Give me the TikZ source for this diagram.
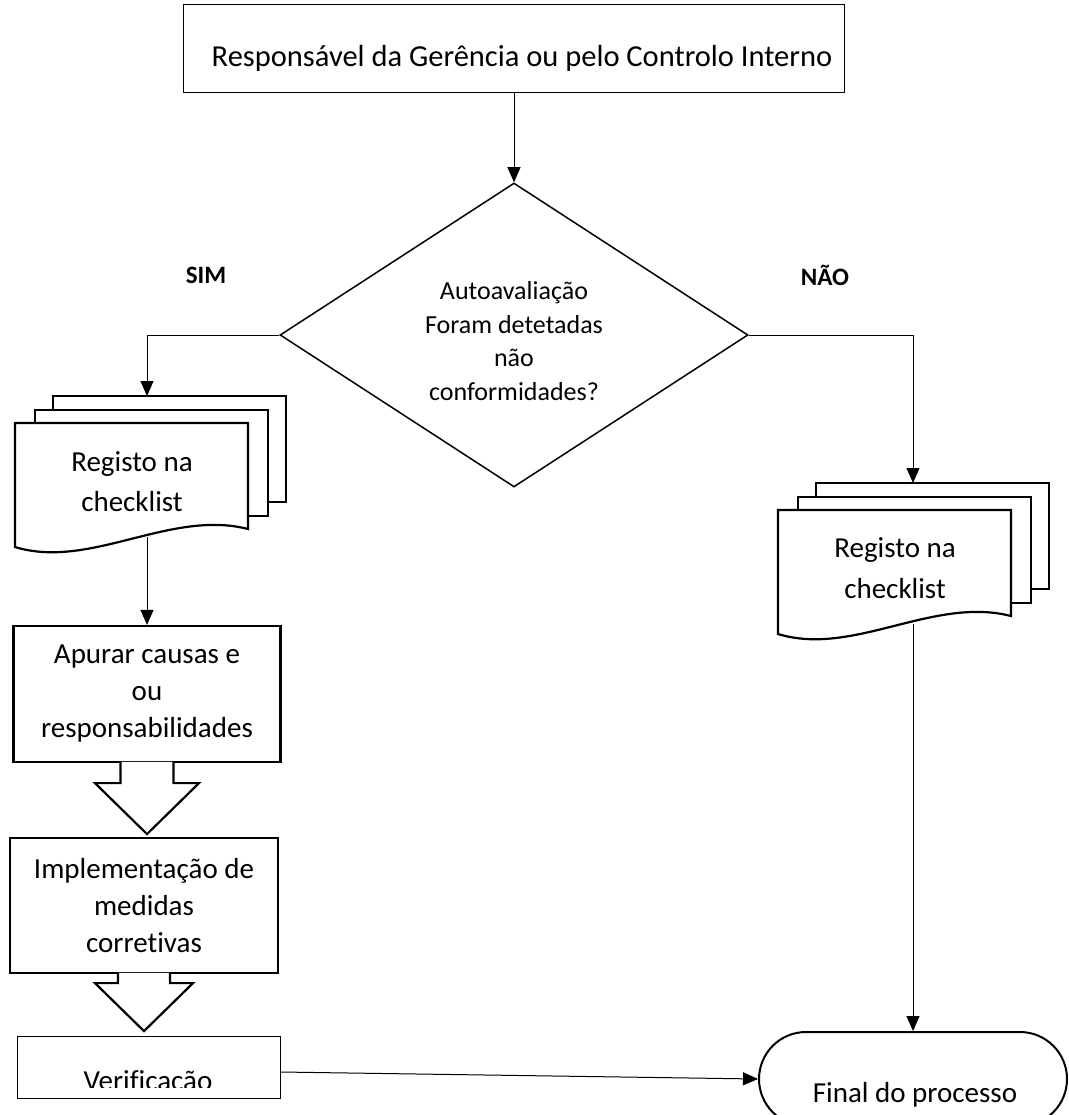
\documentclass[tikz,border=0pt]{standalone}
\usepackage{fontspec}
\setmainfont{Carlito}[Ligatures=NoCommon]
\usetikzlibrary{positioning, arrows.meta, shapes.geometric}

\begin{document}
\begin{tikzpicture}[x=1pt, y=-1pt, font=\fontsize{29}{37}\selectfont,
  box/.style={draw, line width=2.2pt, fill=white, align=center, inner sep=0pt},
  thinbox/.style={draw, line width=1pt, align=center, inner sep=0pt},
  page/.style={draw, line width=2.2pt, fill=white},
  flow/.style={line width=1pt, -{Triangle[length=15pt, width=13pt]}},
  answer/.style={font=\fontsize{25}{30}\selectfont\bfseries}]
% page is 1068 x 1115 px, y runs downwards; the bottom row is cut off
\clip (0,0) rectangle (1068,1115);
\node[thinbox, minimum width=661pt, minimum height=88pt] (resp) at (514,49) {};
\node[anchor=base, font=\fontsize{30.5}{37}\selectfont] (resptxt) at (522,67) {Responsável da Gerência ou pelo Controlo Interno};
\node[draw, diamond, line width=1.5pt, aspect=1.54, minimum width=468pt, minimum height=304pt, inner sep=0pt] (dec) at (514,335) {};
\node[align=center, font=\fontsize{26}{33.5}\selectfont] (dectxt) at (514,341) {Autoavaliação\\Foram detetadas\\não\\conformidades?};
\node[answer] (sim) at (206,275) {SIM};
\node[answer] (nao) at (825,275) {NÃO};
\foreach \px/\py in {15/423, 778/510} {
  \foreach \dx/\dy in {38/-27, 20/-13}
    \draw[page] (\px+\dx, \py+\dy) rectangle (\px+\dx+233, \py+\dy+106);
  \draw[page] (\px,\py) -- (\px+233,\py) -- (\px+233,\py+106) .. controls (\px+155,\py+86) and (\px+75,\py+147) .. (\px,\py+124) -- cycle;
}
\node[align=center, font=\fontsize{29}{40}\selectfont] (regL) at (132,482) {Registo na\\checklist};
\node[align=center, font=\fontsize{29}{41}\selectfont] (regR) at (895,568) {Registo na\\checklist};
\coordinate (docLtop) at (147,396);
\coordinate (docLbot) at (147,537);
\coordinate (docRtop) at (913,483);
\coordinate (docRbot) at (913,624);
\node[box, minimum width=267pt, minimum height=136pt] (apurar) at (147,694) {Apurar causas e\\ou\\responsabilidades};
\node[box, minimum width=268pt, minimum height=135pt] (medidas) at (144,905.5) {Implementação de\\medidas\\corretivas};
\node[thinbox, minimum width=263pt, minimum height=62pt] (verif) at (148.5,1067) {};
\node[draw, line width=2pt, rounded corners=47pt, minimum width=308pt, minimum height=94pt] (final) at (913,1079) {};
% block arrows between the boxes
\filldraw[page] ([shift={(-26.5,-1.2)}]apurar.south) -- ++(0,21.2) -- ++(-25.5,0) -- ++(52,51) -- ++(52,-51) -- ++(-25.5,0) -- ++(0,-21.2);
\filldraw[page] ([shift={(-26,-1.2)}]medidas.south) -- ++(0,10.2) -- ++(-23,0) -- ++(49,48) -- ++(49,-48) -- ++(-23,0) -- ++(0,-10.2);
\draw[flow] (resp.south) -- (dec.north);
\draw[flow] (dec.west) -| (docLtop);
\draw[flow] (dec.east) -| (docRtop);
\draw[flow] (docLbot) -- (apurar.north);
\draw[flow] (docRbot) -- (final.north);
\draw[flow] ([yshift=-5pt]verif.east) -- (final.west);
\begin{scope}
  \clip ([yshift=11pt]verif.south west) rectangle (verif.north east);
  \node[anchor=base] (veriftxt) at (148,1090) {Verificação};
\end{scope}
\node[anchor=base] (finaltxt) at (915,1102) {Final do processo};
\end{tikzpicture}
\end{document}
